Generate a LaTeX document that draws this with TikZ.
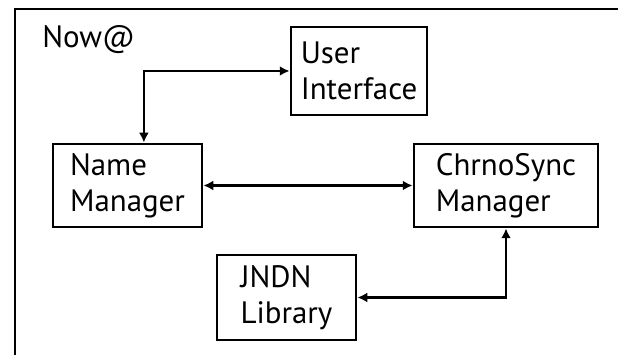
\documentclass[tikz,border=0pt]{standalone}
\usepackage{fontspec}
\setmainfont{PT Sans}
\usetikzlibrary{arrows.meta}

\begin{document}
\begin{tikzpicture}[>={Latex[length=7pt,width=7pt]}]
			\useasboundingbox (0,0) rectangle (15.45,8.875);
			\clip (0,0) rectangle (15.45,8.875);
			% outer frame, runs off to the right and bottom
			\draw [line width=2pt] (0.375,-1) rectangle (16.5,8.65);
			\node [anchor=base west,inner sep=0pt,font=\fontsize{22}{26}\selectfont] (T) at (1.05,7.68) {Now@};
			
			\begin{scope}[every node/.style={draw,line width=2pt,align=left,inner sep=0pt,font=\fontsize{22}{25.6}\selectfont}]
				\node [minimum width=3.4cm,minimum height=2.2cm] (UI) at (8.975,7.1) {User\\Interface};
				\node [minimum width=3.725cm,minimum height=2.075cm] (NM) at (3.1875,4.2375) {Name\\Manager};
				\node [minimum width=4.6cm,minimum height=2.075cm] (CS) at (12.65,4.2375) {ChrnoSync\\Manager};
				\node [minimum width=3.475cm,minimum height=2.125cm] (JL) at (7.1625,1.4375) {JNDN\\Library};
			\end{scope}
			
			\begin{scope}[every edge/.style={draw=black,line width=1.7pt}]
				\draw [<->,line width=1.7pt] ([xshift=0.41cm]NM.north) |- (UI.west);
				\path [<->] (NM) edge (CS);
				\draw [<->,line width=1.7pt] (JL.east) -| (CS.south);
			\end{scope}
		\end{tikzpicture}
\end{document}
